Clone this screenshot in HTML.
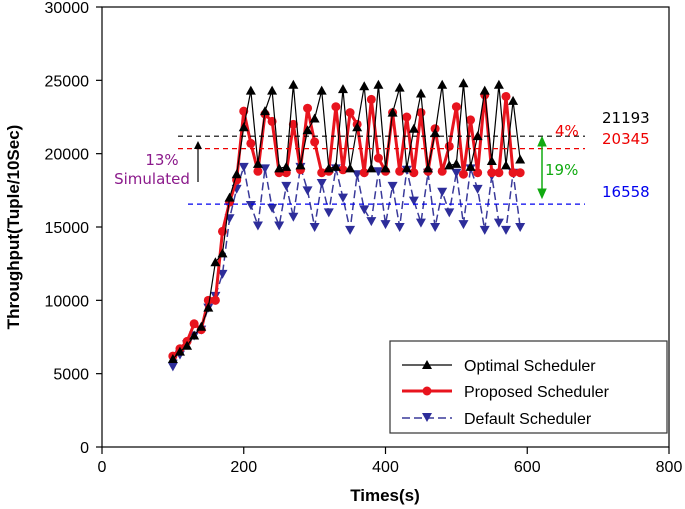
<!DOCTYPE html>
<html><head><meta charset="utf-8"><style>
html,body{margin:0;padding:0;background:#fff;}
svg{display:block;}
text{font-family:"Liberation Sans",Arial,sans-serif;}
.ann{font-family:"DejaVu Sans",Verdana,sans-serif;font-size:15px;}
</style></head><body>
<svg id="chart" width="685" height="509" viewBox="0 0 685 509" xmlns="http://www.w3.org/2000/svg">
<g id="axes"></g>
<g id="series"></g>
<g id="refs"></g>
<text x="385" y="501" text-anchor="middle" font-size="17" font-weight="bold">Times(s)</text>
<text transform="translate(19,227) rotate(-90)" text-anchor="middle" font-size="17" font-weight="bold">Throughput(Tuple/10Sec)</text>
<text class="ann" x="162" y="165" text-anchor="middle" fill="#8b1a8b">13%</text>
<text class="ann" x="152" y="184" text-anchor="middle" fill="#8b1a8b">Simulated</text>
<g><line x1="198" y1="182" x2="198" y2="146" stroke="#000" stroke-width="1.2"/><path d="M194,149 L198,141 L202,149 Z" fill="#000"/></g>
<text class="ann" x="602" y="123" fill="#000">21193</text>
<text class="ann" x="602" y="144" fill="#e00">20345</text>
<text class="ann" x="602" y="197" fill="#00e">16558</text>
<text class="ann" x="555" y="136" fill="#e00">4%</text>
<text class="ann" x="545" y="175" fill="#1a1">19%</text>
<g stroke="#1a1" fill="#1a1"><line x1="542" y1="140" x2="542" y2="195" stroke-width="1.5"/><path d="M538,146 L542,137 L546,146 Z"/><path d="M538,189 L542,198 L546,189 Z"/></g>
<g>
<rect x="390" y="341" width="277" height="92" fill="#fff" stroke="#333" stroke-width="1.2"/>
<g><line x1="402" y1="365" x2="452" y2="365" stroke="#000" stroke-width="1.2"/><path d="M427,360 L432,369 L422,369 Z" fill="#000"/><text x="464" y="371" font-size="16">Optimal Scheduler</text></g>
<g><line x1="402" y1="391" x2="452" y2="391" stroke="#e8141e" stroke-width="3"/><circle cx="427" cy="391" r="4.5" fill="#e8141e"/><text x="464" y="397" font-size="16">Proposed Scheduler</text></g>
<g><line x1="402" y1="418" x2="452" y2="418" stroke="#3a3a9a" stroke-width="1.5" stroke-dasharray="8,4"/><path d="M422,413 L432,413 L427,422 Z" fill="#2d2d9a"/><text x="464" y="424" font-size="16">Default Scheduler</text></g>
</g>
</svg>
<script>
const times = [100,110,120,130,140,150,160,170,180,190,200,210,220,230,240,250,260,270,280,290,300,310,320,330,340,350,360,370,380,390,400,410,420,430,440,450,460,470,480,490,500,510,520,530,540,550,560,570,580,590];
const optimal = [6000,6500,6900,7600,8200,9500,12600,13200,17000,18600,21800,24300,19300,22900,24300,19000,19100,24700,19200,21600,22400,24300,19000,19100,24400,19000,21800,24600,19000,24700,19000,22800,24500,19000,21700,24100,19000,21400,24700,19200,19300,24800,19100,21200,24300,19500,24700,19200,23600,19600];
const proposed = [6200,6700,7200,8400,8000,10000,10000,14700,16700,18200,22900,20700,18800,22700,22200,18700,18700,22000,18900,23100,20800,18700,18800,23200,18900,22800,22000,18700,23700,19700,18800,22800,18800,22500,18700,22800,18800,21700,18800,20500,23200,18600,22300,18700,24000,18700,18700,23900,18700,18700];
const defaults = [5500,6300,7000,7600,8000,9500,10300,11800,15600,17600,19100,16500,15100,19000,16300,15100,17800,15700,19100,17500,15000,18000,16000,19000,17000,14800,18600,16200,15400,18800,15200,17800,15000,18900,16800,15300,18700,15000,17400,16000,18700,15200,19000,17600,14800,18500,15300,14800,18700,15000];
const xTicks = [0,200,400,600,800];
const yTicks = [0,5000,10000,15000,20000,25000,30000];
const refValues = [21193,20345,16558];
const refStarts = [178,178,188];
const refColors = ['#000','#e00','#00e'];

const NS='http://www.w3.org/2000/svg';
const X0=102, X1=669, Y0=447, Y1=7;
function xs(t){return X0+(t-0)/800*(X1-X0);}
function ys(v){return Y0-(v-0)/30000*(Y0-Y1);}
function mk(tag,attrs,parent){const e=document.createElementNS(NS,tag);for(const k in attrs)e.setAttribute(k,attrs[k]);parent.appendChild(e);return e;}

const axes=document.getElementById('axes');
const frame=mk('rect',{x:X0,y:Y1,width:X1-X0,height:Y0-Y1,fill:'none',stroke:'#000','stroke-width':1.2},axes);


xTicks.forEach(t=>{
  const l=mk('line',{x1:xs(t),x2:xs(t),y1:Y0,y2:Y0+7,stroke:'#000','stroke-width':1.2},axes);
  
  
  const tx=mk('text',{x:xs(t),y:Y0+25,'text-anchor':'middle','font-size':16},axes);
  tx.textContent=t;
  
  
});
yTicks.forEach(v=>{
  const l=mk('line',{x1:X0-6,x2:X0,y1:ys(v),y2:ys(v),stroke:'#000','stroke-width':1.2},axes);
  
  
  const tx=mk('text',{x:89,y:ys(v)+6,'text-anchor':'end','font-size':16},axes);
  tx.textContent=v;
  
  
});

const refs=document.getElementById('refs');
refValues.forEach((v,i)=>{
  const l=mk('line',{x1:refStarts[i],x2:585,y1:ys(v),y2:ys(v),stroke:refColors[i],'stroke-width':1.2,'stroke-dasharray':'5,4'},refs);
  
  
});

const ser=document.getElementById('series');
function pts(arr){return arr.map((v,i)=>xs(times[i])+','+ys(v)).join(' ');}
const gd=mk('g',{},ser);


mk('polyline',{points:pts(defaults),fill:'none',stroke:'#3a3a9a','stroke-width':1.5,'stroke-dasharray':'8,4'},gd);
defaults.forEach((v,i)=>{const x=xs(times[i]),y=ys(v);
  const m=mk('path',{d:`M${x-5},${y-4} L${x+5},${y-4} L${x},${y+5} Z`,fill:'#2d2d9a'},gd);
  
  });
const gp=mk('g',{},ser);


mk('polyline',{points:pts(proposed),fill:'none',stroke:'#e8141e','stroke-width':3},gp);
proposed.forEach((v,i)=>{
  const m=mk('circle',{cx:xs(times[i]),cy:ys(v),r:4.5,fill:'#e8141e'},gp);
  
  });
const go=mk('g',{},ser);


mk('polyline',{points:pts(optimal),fill:'none',stroke:'#000','stroke-width':1.2},go);
optimal.forEach((v,i)=>{const x=xs(times[i]),y=ys(v);
  const m=mk('path',{d:`M${x},${y-5} L${x+5},${y+4} L${x-5},${y+4} Z`,fill:'#000'},go);
  
  });
</script>
</body></html>
